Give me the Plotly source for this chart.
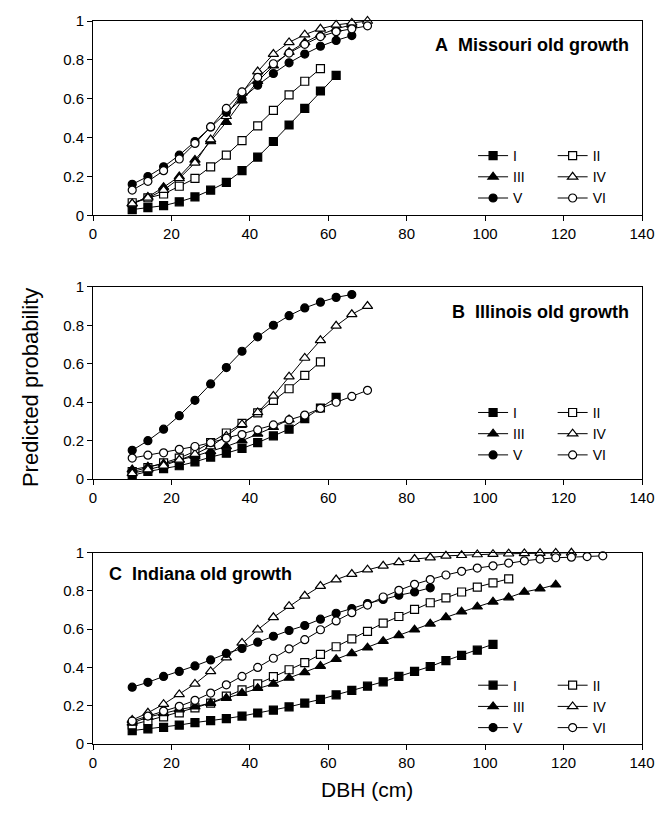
import plotly.graph_objects as go

# DBH class midpoints (cm)
DBH = [10, 14, 18, 22, 26, 30, 34, 38, 42, 46, 50, 54, 58, 62, 66, 70, 74, 78, 82, 86,
       90, 94, 98, 102, 106, 110, 114, 118, 122, 126, 130]

SERIES = ["I", "II", "III", "IV", "V", "VI"]

# Panel A - Missouri old growth
A_I = [0.03, 0.04, 0.05, 0.07, 0.095, 0.13, 0.17, 0.23, 0.30, 0.38, 0.465, 0.55, 0.64, 0.72]
A_II = [0.065, 0.09, 0.11, 0.15, 0.19, 0.25, 0.31, 0.385, 0.46, 0.54, 0.62, 0.69, 0.755]
A_III = [0.06, 0.095, 0.145, 0.2, 0.285, 0.38, 0.48, 0.59, 0.69, 0.77, 0.84, 0.89, 0.93, 0.96, 0.98]
A_IV = [0.06, 0.09, 0.13, 0.19, 0.27, 0.39, 0.51, 0.63, 0.74, 0.83, 0.89, 0.93, 0.96, 0.98, 0.99, 1.0]
A_V = [0.16, 0.2, 0.25, 0.31, 0.38, 0.455, 0.53, 0.60, 0.67, 0.73, 0.785, 0.83, 0.87, 0.90, 0.925]
A_VI = [0.13, 0.175, 0.23, 0.29, 0.37, 0.455, 0.55, 0.635, 0.71, 0.78, 0.835, 0.88, 0.92, 0.945, 0.96, 0.975]

# Panel B - Illinois old growth
B_I = [0.02, 0.04, 0.055, 0.07, 0.09, 0.115, 0.135, 0.16, 0.19, 0.225, 0.26, 0.315, 0.37, 0.425]
B_II = [0.04, 0.06, 0.085, 0.11, 0.145, 0.19, 0.24, 0.29, 0.345, 0.41, 0.47, 0.54, 0.61]
B_III = [0.05, 0.065, 0.08, 0.1, 0.12, 0.145, 0.17, 0.2, 0.235, 0.27, 0.31]
B_IV = [0.03, 0.05, 0.07, 0.1, 0.13, 0.17, 0.225, 0.285, 0.347, 0.433, 0.533, 0.63, 0.722, 0.797, 0.857, 0.9]
B_V = [0.15, 0.2, 0.26, 0.33, 0.41, 0.495, 0.58, 0.665, 0.74, 0.8, 0.85, 0.89, 0.92, 0.945, 0.96]
B_VI = [0.11, 0.125, 0.137, 0.155, 0.17, 0.19, 0.213, 0.232, 0.256, 0.282, 0.308, 0.333, 0.368, 0.4, 0.43, 0.462]

# Panel C - Indiana old growth
C_I = [0.07, 0.079, 0.087, 0.099, 0.112, 0.122, 0.133, 0.146, 0.162, 0.177, 0.194, 0.214, 0.233,
       0.257, 0.28, 0.302, 0.325, 0.353, 0.379, 0.405, 0.436, 0.463, 0.49, 0.521]
C_II = [0.1, 0.122, 0.142, 0.163, 0.189, 0.214, 0.25, 0.283, 0.314, 0.352, 0.388, 0.425, 0.468,
        0.508, 0.549, 0.588, 0.631, 0.666, 0.703, 0.738, 0.763, 0.794, 0.82, 0.842, 0.863]
C_III = [0.11, 0.14, 0.16, 0.18, 0.195, 0.214, 0.24, 0.266, 0.292, 0.314, 0.345, 0.374, 0.407, 0.443,
         0.473, 0.503, 0.537, 0.568, 0.597, 0.628, 0.662, 0.691, 0.717, 0.743, 0.765, 0.794, 0.811, 0.832]
C_IV = [0.125, 0.163, 0.208, 0.259, 0.314, 0.379, 0.451, 0.528, 0.597, 0.662, 0.72, 0.774, 0.825,
        0.859, 0.888, 0.911, 0.931, 0.949, 0.966, 0.974, 0.983, 0.986, 0.99, 0.992, 0.994, 0.996,
        0.997, 0.998, 0.999]
C_V = [0.297, 0.322, 0.353, 0.379, 0.408, 0.439, 0.473, 0.499, 0.532, 0.563, 0.593, 0.619, 0.652,
       0.683, 0.708, 0.734, 0.755, 0.777, 0.794, 0.816]
C_VI = [0.12, 0.146, 0.172, 0.197, 0.228, 0.266, 0.309, 0.353, 0.4, 0.448, 0.497, 0.545, 0.597, 0.643,
        0.686, 0.726, 0.768, 0.803, 0.834, 0.859, 0.883, 0.902, 0.919, 0.931, 0.945, 0.957, 0.966,
        0.973, 0.976, 0.979, 0.983]

PANEL_TITLES = ["A\u00a0\u00a0Missouri old growth", "B\u00a0\u00a0Illinois old growth", "C\u00a0\u00a0Indiana old growth"]
X_TICKS = [0, 20, 40, 60, 80, 100, 120, 140]
Y_TICKS = [0, 0.2, 0.4, 0.6, 0.8, 1]
Y_TICK_TEXT = ["0", "0.2", "0.4", "0.6", "0.8", "1"]

panels = [
    [A_I, A_II, A_III, A_IV, A_V, A_VI],
    [B_I, B_II, B_III, B_IV, B_V, B_VI],
    [C_I, C_II, C_III, C_IV, C_V, C_VI],
]

FONT = "Liberation Sans, Arial, sans-serif"
symbols = ["square", "square", "triangle-up", "triangle-up", "circle", "circle"]
fills = ["black", "white", "black", "white", "black", "white"]
sizes = [8, 8, 9, 9, 8, 8]

fig = go.Figure()

# pixel-based layout helpers
W, H = 667, 813
ML, MR, MT, MB = 93, 15, 15, 69
PW = W - ML - MR
PH = H - MT - MB


def py(px):
    return (H - MB - px) / PH


def pxx(px):
    return (px - ML) / PW


domains = [(py(211), py(15)), (py(477), py(283)), (py(744), py(551))]
legend_tops = [135, 394, 669]

for p, series in enumerate(panels):
    ax = "" if p == 0 else str(p + 1)
    for i, vals in enumerate(series):
        leg_idx = p * 2 + (i % 2) + 1
        fig.add_trace(go.Scatter(
            x=DBH[:len(vals)], y=vals, mode="lines+markers", name=SERIES[i],
            xaxis="x" + ax, yaxis="y" + ax,
            line=dict(color="black", width=1),
            marker=dict(symbol=symbols[i], size=sizes[i], color=fills[i],
                        line=dict(color="black", width=1.2)),
            cliponaxis=False,
            legend="legend" if leg_idx == 1 else "legend" + str(leg_idx),
        ))

axis_common = dict(showline=True, linecolor="black", linewidth=1, mirror=True,
                   ticks="outside", ticklen=5, tickcolor="black", showgrid=False,
                   zeroline=False, tickfont=dict(family=FONT, size=15, color="black"))

layout = dict(width=W, height=H, margin=dict(l=ML, r=MR, t=MT, b=MB),
              paper_bgcolor="white", plot_bgcolor="white", showlegend=True,
              font=dict(family=FONT, color="black"))

for p in range(3):
    ax = "" if p == 0 else str(p + 1)
    layout["xaxis" + ax] = dict(axis_common, domain=[0, 1], range=[0, 140],
                                tickvals=X_TICKS, anchor="y" + ax)
    layout["yaxis" + ax] = dict(axis_common, domain=list(domains[p]), range=[0, 1],
                                tickvals=Y_TICKS, ticktext=Y_TICK_TEXT, anchor="x" + ax)
    for c in range(2):
        idx = p * 2 + c + 1
        key = "legend" if idx == 1 else "legend" + str(idx)
        layout[key] = dict(x=pxx(480 if c == 0 else 561), y=py(legend_tops[p]),
                           xanchor="left", yanchor="top", bgcolor="rgba(0,0,0,0)",
                           borderwidth=0, itemwidth=30, tracegroupgap=0,
                           font=dict(family=FONT, size=14, color="black"))

fig.update_layout(**layout)

annotations = [
    dict(text="<b>" + PANEL_TITLES[0] + "</b>", x=pxx(641), y=py(39), xanchor="right"),
    dict(text="<b>" + PANEL_TITLES[1] + "</b>", x=pxx(641), y=py(308), xanchor="right"),
    dict(text="<b>" + PANEL_TITLES[2] + "</b>", x=pxx(107), y=py(573), xanchor="left"),
]
for a in annotations:
    fig.add_annotation(xref="paper", yref="paper", yanchor="middle", showarrow=False,
                       font=dict(family=FONT, size=18, color="black"), **a)

fig.add_annotation(text="Predicted probability", xref="paper", yref="paper",
                   x=pxx(30), y=py(385), textangle=-90, showarrow=False,
                   xanchor="center", yanchor="middle",
                   font=dict(family=FONT, size=22, color="black"))
fig.add_annotation(text="DBH (cm)", xref="paper", yref="paper",
                   x=pxx(372), y=py(790), showarrow=False,
                   xanchor="center", yanchor="middle",
                   font=dict(family=FONT, size=21, color="black"))

fig.write_html("out.html", config={"displayModeBar": False},
               post_script="document.body.style.margin='0';")
